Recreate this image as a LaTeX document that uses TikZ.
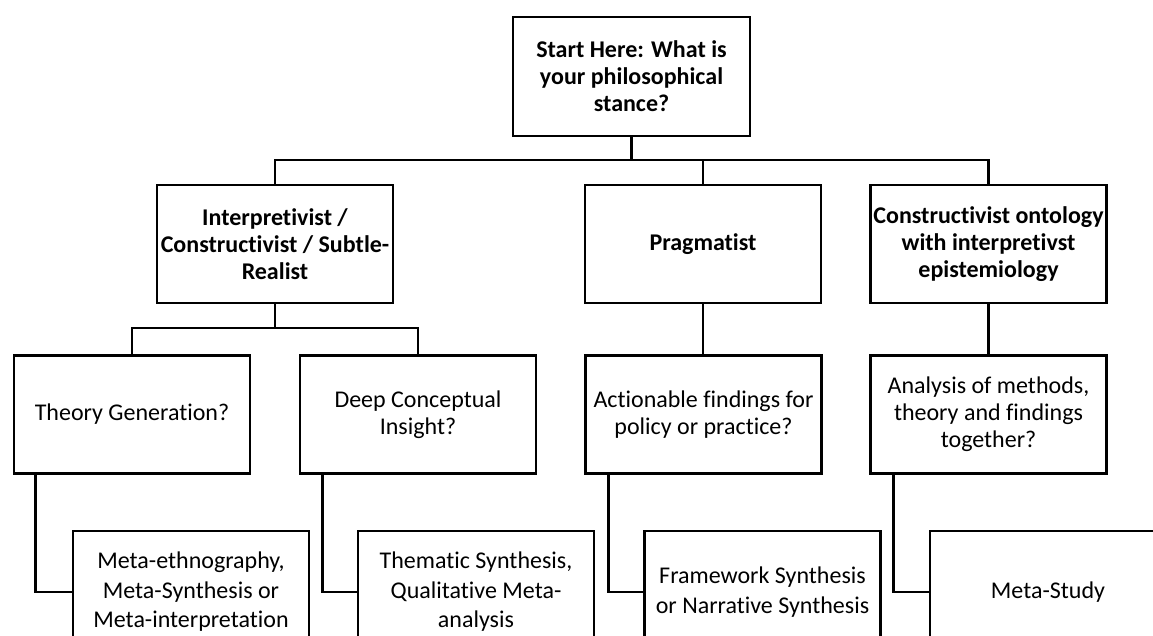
\documentclass[tikz,border=0pt]{standalone}
\usepackage{fontspec}
\setmainfont[Ligatures=NoCommon]{Carlito}
\begin{document}
\begin{tikzpicture}[x=1pt,y=-1pt,
  box/.style={draw, line width=2.8pt, minimum width=236pt, minimum height=118pt, align=center, inner sep=1pt, font=\fontsize{24}{27}\selectfont},
  bbox/.style={box, font=\fontsize{24}{27}\selectfont\bfseries},
  lbox/.style={box, minimum height=122pt, font=\fontsize{24}{29.5}\selectfont},
  conn/.style={line width=2.8pt}]
\useasboundingbox (0,0) rectangle (1153,635);
\clip (0,0) rectangle (1153,635);
% level 0
\node[bbox, minimum width=237pt, minimum height=119pt] (start) at (631.5,76.5) {Start Here: What is\\your philosophical\\stance?};
% level 1
\node[bbox] (ia) at (275,244) {Interpretivist /\\Constructivist / Subtle-\\Realist};
\node[bbox] (pr) at (703,244) {Pragmatist};
\node[bbox] (co) at (988.5,244) {Constructivist ontology\\with interpretivst\\epistemiology};
% level 2
\node[box] (qa) at (132,414.5) {Theory Generation?};
\node[box] (qb) at (418,414.5) {Deep Conceptual\\Insight?};
\node[box] (qc) at (703.5,414.5) {Actionable findings for\\policy or practice?};
\node[box] (qd) at (988.5,414.5) {Analysis of methods,\\theory and findings\\together?};
% level 3
\node[lbox] (ra) at (191,592) {Meta-ethnography,\\Meta-Synthesis or\\Meta-interpretation};
\node[lbox] (rb) at (476,592) {Thematic Synthesis,\\Qualitative Meta-\\analysis};
\node[lbox] (rc) at (762.5,592) {Framework Synthesis\\or Narrative Synthesis};
\node[lbox] (rd) at (1048,592) {Meta-Study};
% connectors
\coordinate (b1) at (631.5,160);
\draw[conn] (start.south) -- (b1);
\draw[conn] (ia.north) |- (b1) -| (co.north);
\draw[conn] (pr.north) -- (pr.north |- b1);
\coordinate (b2) at (275,328);
\draw[conn] (ia.south) -- (b2);
\draw[conn] (qa.north) |- (b2) -| (qb.north);
\draw[conn] (pr.south) -- (pr.south |- qc.north);
\draw[conn] (co.south) -- (co.south |- qd.north);
\draw[conn] ([xshift=23pt]qa.south west) |- (ra.west);
\draw[conn] ([xshift=24pt]qb.south west) |- (rb.west);
\draw[conn] ([xshift=24pt]qc.south west) |- (rc.west);
\draw[conn] ([xshift=24pt]qd.south west) |- (rd.west);
\end{tikzpicture}
\end{document}
